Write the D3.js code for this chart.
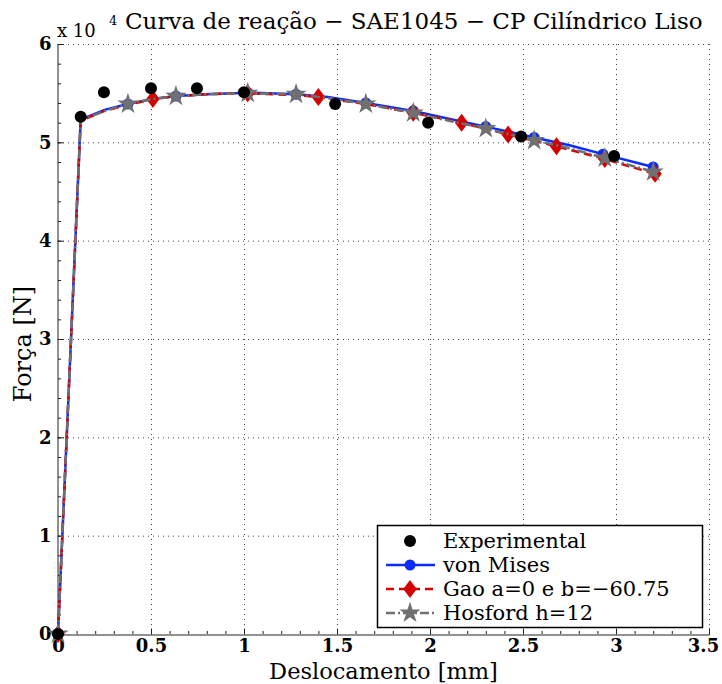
<!DOCTYPE html>
<html>
<head>
<meta charset="utf-8">
<script src="https://cdn.jsdelivr.net/npm/d3@7"></script>
<style>
	body { margin: 0; background: #fff; }
	text { font-family: "DejaVu Serif", "Liberation Serif", serif; }
</style>
</head>
<body>
<svg id="chart" width="722" height="684"></svg>
<script>
// experimental points
let expX = [0, 0.122, 0.247, 0.5, 0.747, 1.0, 1.49, 1.99, 2.49, 2.99];
let expY = [0, 5.26, 5.51, 5.55, 5.55, 5.51, 5.39, 5.20, 5.06, 4.86];

// von Mises curve
let vmX = [0, 0.122, 0.25, 0.376, 0.51, 0.634, 0.8, 1.02, 1.28, 1.45, 1.655, 1.91, 2.1, 2.30, 2.56, 2.75, 2.93, 3.20];
let vmY = [0, 5.23, 5.33, 5.39, 5.44, 5.47, 5.49, 5.505, 5.49, 5.46, 5.40, 5.32, 5.24, 5.16, 5.05, 4.97, 4.88, 4.75];
let vmMarks = [0, 3, 5, 7, 8, 10, 11, 13, 14, 16, 17];

// Gao a=0 b=-60.75
let gaoX = [0, 0.122, 0.25, 0.376, 0.51, 0.634, 0.8, 1.02, 1.28, 1.40, 1.655, 1.91, 2.17, 2.42, 2.68, 2.94, 3.21];
let gaoY = [0, 5.22, 5.32, 5.38, 5.44, 5.47, 5.49, 5.50, 5.48, 5.46, 5.39, 5.30, 5.20, 5.08, 4.96, 4.83, 4.68];
let gaoMarks = [0, 4, 7, 9, 11, 12, 13, 14, 15, 16];

// Hosford h=12
let hosX = [0, 0.122, 0.25, 0.376, 0.51, 0.634, 0.8, 1.02, 1.28, 1.45, 1.655, 1.91, 2.1, 2.30, 2.56, 2.75, 2.94, 3.20];
let hosY = [0, 5.22, 5.32, 5.39, 5.44, 5.47, 5.49, 5.50, 5.49, 5.45, 5.39, 5.30, 5.22, 5.14, 5.02, 4.94, 4.84, 4.70];
let hosMarks = [0, 3, 5, 7, 8, 10, 11, 13, 14, 16, 17];

let xTicks = [0, 0.5, 1, 1.5, 2, 2.5, 3, 3.5];
let yTicks = [0, 1, 2, 3, 4, 5, 6];
let legendNames = ['Experimental', 'von Mises', 'Gao a=0 e b=\u221260.75', 'Hosford h=12'];

let mLeft = 58, mRight = 709, mTop = 44, mBottom = 634;
let serif = '"DejaVu Serif", "Liberation Serif", serif';

let x = d3.scaleLinear().domain([0, 3.5]).range([mLeft, mRight]);
let y = d3.scaleLinear().domain([0, 6]).range([mBottom, mTop]);

let svg = d3.select('#chart');

// grid
let grid = svg.append('g')
	.attr('stroke', '#444')
	.attr('stroke-width', 1)
	.attr('stroke-dasharray', '1,4');
grid.selectAll('.gx').data(xTicks.slice(1)).enter().append('line')
	.attr('x1', d => x(d) + 0.5).attr('x2', d => x(d) + 0.5)
	.attr('y1', mTop).attr('y2', mBottom);
grid.selectAll('.gy').data(yTicks.slice(1)).enter().append('line')
	.attr('y1', d => y(d) + 0.5).attr('y2', d => y(d) + 0.5)
	.attr('x1', mLeft).attr('x2', mRight);

// axes
let xAxis = d3.axisBottom(x).tickValues(xTicks).tickSize(-6).tickPadding(6)
	.tickFormat(d => d);
let yAxis = d3.axisLeft(y).tickValues(yTicks).tickSize(-6).tickPadding(9)
	.tickFormat(d3.format('d'));

let gx = svg.append('g').attr('transform', 'translate(0,' + (mBottom + 0.5) + ')').call(xAxis);
let gy = svg.append('g').attr('transform', 'translate(' + (mLeft - 0.5) + ',0)').call(yAxis);
[gx, gy].forEach(function(g) {
	g.attr('font-family', serif);
	g.select('.domain').attr('stroke', '#222');
	g.selectAll('.tick line').attr('stroke', '#222');
	g.selectAll('.tick text')
		.attr('fill', '#000')
		.style('font-size', '18px')
		.style('font-weight', 'bold');
});
gx.selectAll('.tick text').attr('dy', '0.62em')
	.attr('dx', d => d === 3.5 ? -6 : 0);
gy.selectAll('.tick text').attr('dx', '3px');

// minor ticks
let minorX = d3.range(0, 3.501, 0.1);
svg.append('g').selectAll('line').data(minorX).enter().append('line')
	.attr('x1', d => x(d) + 0.5).attr('x2', d => x(d) + 0.5)
	.attr('y1', mBottom).attr('y2', mBottom - 3)
	.attr('stroke', '#222');
let minorY = d3.range(0, 6.001, 0.2);
svg.append('g').selectAll('line').data(minorY).enter().append('line')
	.attr('y1', d => y(d) + 0.5).attr('y2', d => y(d) + 0.5)
	.attr('x1', mLeft).attr('x2', mLeft + 3)
	.attr('stroke', '#222');

// markers
function diamond(g, cx, cy, s) {
	g.append('path')
		.attr('d', 'M' + cx + ',' + (cy - s) + 'L' + (cx + s * 0.75) + ',' + cy + 'L' + cx + ',' + (cy + s) + 'L' + (cx - s * 0.75) + ',' + cy + 'Z')
		.attr('fill', '#d40000');
}
let star = d3.symbol().type(d3.symbolStar).size(140);

function zip(xs, ys) {
	return xs.map((v, i) => [v, ys[i]]);
}
let line = d3.line().x(d => x(d[0])).y(d => y(d[1]));

let plot = svg.append('g');

// von Mises
plot.append('path').datum(zip(vmX, vmY))
	.attr('d', line).attr('fill', 'none')
	.attr('stroke', '#0a2cff').attr('stroke-width', 2.5);
plot.selectAll('.vm').data(vmMarks).enter().append('circle')
	.attr('cx', i => x(vmX[i])).attr('cy', i => y(vmY[i]))
	.attr('r', 5.5).attr('fill', '#0a2cff');

// Gao
plot.append('path').datum(zip(gaoX, gaoY))
	.attr('d', line).attr('fill', 'none')
	.attr('stroke', '#d40000').attr('stroke-width', 2.5)
	.attr('stroke-dasharray', '8,5');
gaoMarks.forEach(i => diamond(plot, x(gaoX[i]), y(gaoY[i]), 9));

// Hosford
plot.append('path').datum(zip(hosX, hosY))
	.attr('d', line).attr('fill', 'none')
	.attr('stroke', '#707070').attr('stroke-width', 2.5)
	.attr('stroke-dasharray', '9,3,2,3');
plot.selectAll('.hs').data(hosMarks).enter().append('path')
	.attr('d', star)
	.attr('transform', i => 'translate(' + x(hosX[i]) + ',' + y(hosY[i]) + ')')
	.attr('fill', '#707070');

// experimental
plot.selectAll('.ex').data(zip(expX, expY)).enter().append('circle')
	.attr('cx', d => x(d[0])).attr('cy', d => y(d[1]))
	.attr('r', 6).attr('fill', '#000');

// titles
svg.append('text').attr('x', 57).attr('y', 37).attr('font-family', serif)
	.style('font-size', '18px').text('x 10');
svg.append('text').attr('x', 109).attr('y', 25).attr('font-family', serif)
	.style('font-size', '13px').text('4');
svg.append('text').attr('x', 125).attr('y', 29).attr('font-family', serif)
	.style('font-size', '23px')
	.text('Curva de reação \u2212  SAE1045 \u2212 CP Cilíndrico Liso');

svg.append('text').attr('x', (mLeft + mRight) / 2).attr('y', 679).attr('font-family', serif)
	.attr('text-anchor', 'middle').style('font-size', '22.5px')
	.text('Deslocamento [mm]');
svg.append('text').attr('font-family', serif)
	.attr('transform', 'translate(31,344) rotate(-90)')
	.attr('text-anchor', 'middle').style('font-size', '24px')
	.text('Força [N]');

// legend
let lg = svg.append('g').attr('transform', 'translate(377,525)').attr('font-family', serif);
lg.append('rect').attr('x', 0.5).attr('y', 0.5).attr('width', 325).attr('height', 102)
	.attr('fill', '#fff').attr('stroke', '#000').attr('stroke-width', 1.5);
let rowY = d => 16 + d * 24;
lg.selectAll('text').data(legendNames).enter().append('text')
	.attr('x', 66).attr('y', (d, i) => rowY(i) + 7)
	.style('font-size', '21px').text(d => d);

lg.append('circle').attr('cx', 33).attr('cy', rowY(0)).attr('r', 6).attr('fill', '#000');
lg.append('line').attr('x1', 9).attr('x2', 58).attr('y1', rowY(1)).attr('y2', rowY(1))
	.attr('stroke', '#0a2cff').attr('stroke-width', 2.5);
lg.append('circle').attr('cx', 33).attr('cy', rowY(1)).attr('r', 5.5).attr('fill', '#0a2cff');
lg.append('line').attr('x1', 9).attr('x2', 58).attr('y1', rowY(2)).attr('y2', rowY(2))
	.attr('stroke', '#d40000').attr('stroke-width', 2.5).attr('stroke-dasharray', '8,5');
diamond(lg, 33, rowY(2), 9);
lg.append('line').attr('x1', 9).attr('x2', 58).attr('y1', rowY(3)).attr('y2', rowY(3))
	.attr('stroke', '#707070').attr('stroke-width', 2.5).attr('stroke-dasharray', '9,3,2,3');
lg.append('path').attr('d', star).attr('transform', 'translate(33,' + rowY(3) + ')').attr('fill', '#707070');
</script>
</body>
</html>
